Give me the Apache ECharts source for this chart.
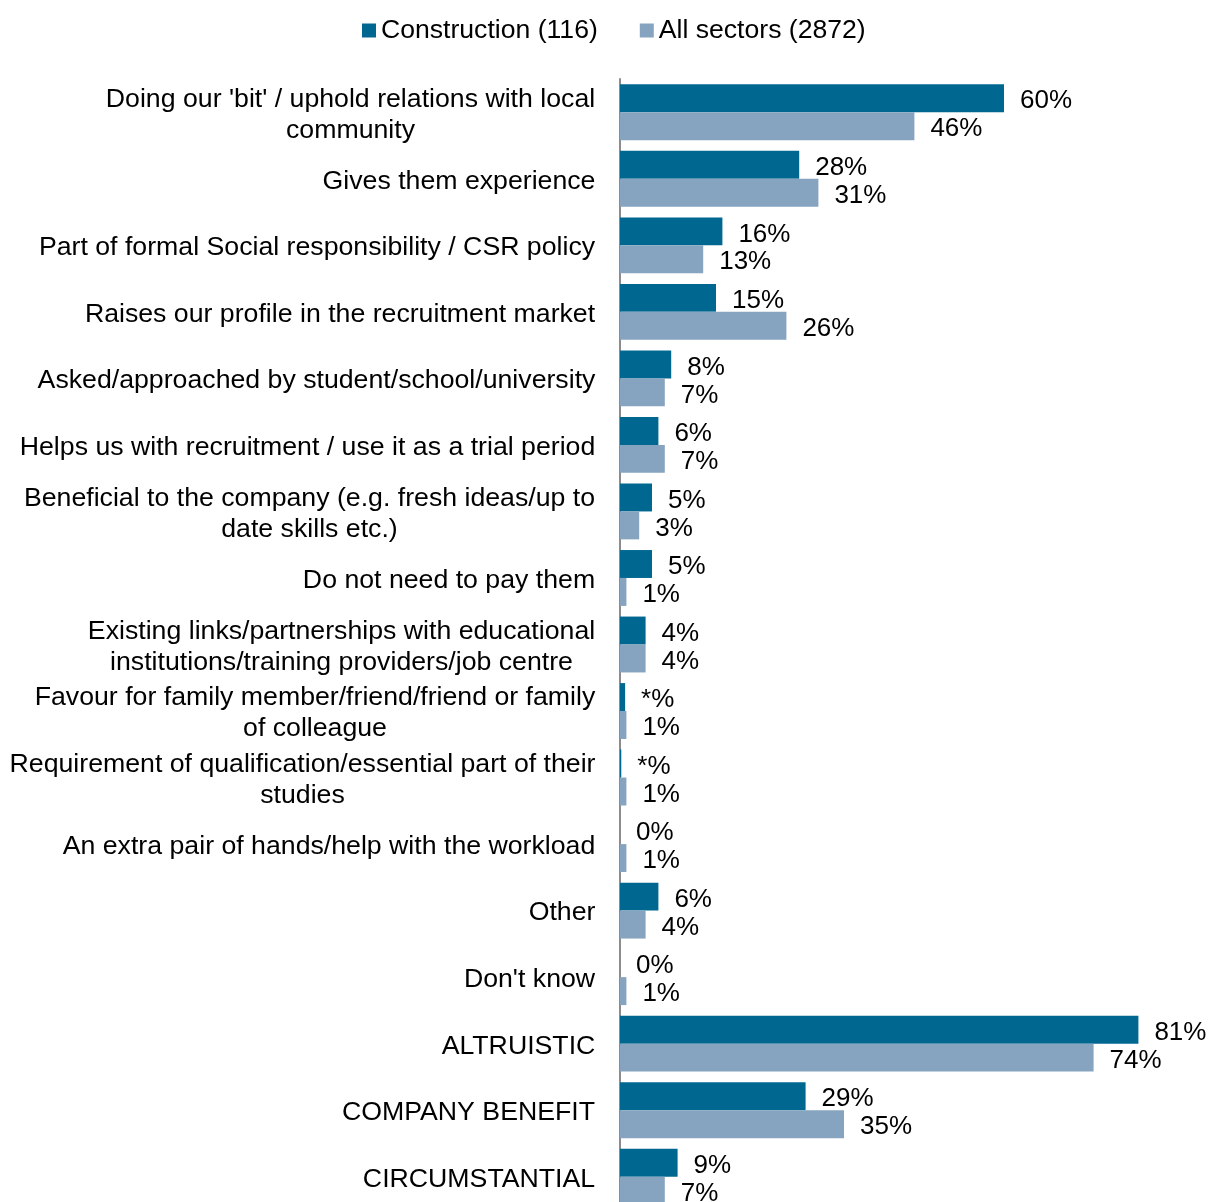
<!DOCTYPE html>
<html>
<head>
<meta charset="utf-8">
<script src="https://cdn.jsdelivr.net/npm/echarts@6/dist/echarts.min.js"></script>
<style>
  html, body { margin: 0; padding: 0; background: #fff; }
  #chart { width: 1210px; height: 1202px; }
</style>
</head>
<body>
<div id="chart"></div>
<script>
// Reasons for offering work placements (% of employers)
const categories = [
  "Doing our 'bit' / uphold relations with local\ncommunity",
  "Gives them experience",
  "Part of formal Social responsibility / CSR policy",
  "Raises our profile in the recruitment market",
  "Asked/approached by student/school/university",
  "Helps us with recruitment / use it as a trial period",
  "Beneficial to the company (e.g. fresh ideas/up to\ndate skills etc.)",
  "Do not need to pay them",
  "Existing links/partnerships with educational\ninstitutions/training providers/job centre",
  "Favour for family member/friend/friend or family\nof colleague",
  "Requirement of qualification/essential part of their\nstudies",
  "An extra pair of hands/help with the workload",
  "Other",
  "Don't know",
  "ALTRUISTIC",
  "COMPANY BENEFIT",
  "CIRCUMSTANTIAL"
];

const seriesNames = ["Construction (116)", "All sectors (2872)"];

// values between 0 and 1 are shown as "*%" (under one percent)
const construction = [60, 28, 16, 15, 8, 6, 5, 5, 4, 0.8, 0.2, 0, 6, 0, 81, 29, 9];
const allSectors   = [46, 31, 13, 26, 7, 7, 3, 1, 4, 1, 1, 1, 4, 1, 74, 35, 7];

const FONT = '"Liberation Sans", Arial, Helvetica, sans-serif';
const LABEL_SIZE = 26.7;
const LEGEND_SIZE = 26.6;
const VALUE_SIZE = 26;

// Measure each category label so multi-line labels can be centred within
// their own block while the block stays right-aligned against the axis.
const measureCtx = document.createElement('canvas').getContext('2d');
measureCtx.font = LABEL_SIZE + 'px ' + FONT;
const rich = {};
categories.forEach((c, i) => {
  const w = Math.max(...c.split('\n').map(l => measureCtx.measureText(l).width));
  rich['c' + i] = {
    width: Math.ceil(w) + 1,
    align: 'center',
    fontSize: LABEL_SIZE,
    fontFamily: FONT,
    color: '#000',
    lineHeight: 31
  };
});

const pctLabel = p => {
  const v = p.value;
  return (v > 0 && v < 1) ? '*%' : v + '%';
};

const valueLabel = {
  show: true,
  position: 'right',
  distance: 16,
  offset: [0, 3],
  formatter: pctLabel,
  fontSize: VALUE_SIZE,
  fontFamily: FONT,
  color: '#000'
};

const chart = echarts.init(document.getElementById('chart'));
chart.setOption({
  backgroundColor: '#fff',
  animation: false,
  legend: {
    data: seriesNames,
    left: 357,
    top: 12,
    icon: 'rect',
    itemWidth: 14,
    itemHeight: 14,
    itemGap: 42,
    textStyle: { fontSize: LEGEND_SIZE, fontFamily: FONT, color: '#000' }
  },
  grid: {
    left: 620,
    top: 79,
    width: 576,
    height: 1131,
    outerBoundsMode: 'none',
    containLabel: false
  },
  xAxis: {
    type: 'value',
    min: 0,
    max: 90,
    show: false
  },
  yAxis: {
    type: 'category',
    inverse: true,
    data: categories,
    axisLine: { show: true, lineStyle: { color: '#8c8c8c', width: 2 } },
    axisTick: { show: false },
    splitLine: { show: false },
    axisLabel: {
      margin: 24,
      align: 'right',
      padding: [5, 0, 0, 0],
      fontSize: LABEL_SIZE,
      fontFamily: FONT,
      color: '#000',
      formatter: (value, index) =>
        value.split('\n').map(l => '{c' + index + '|' + l + '}').join('\n'),
      rich: rich
    }
  },
  series: [
    {
      name: seriesNames[0],
      type: 'bar',
      data: construction,
      barGap: '0%',
      barCategoryGap: '16%',
      itemStyle: { color: '#006890' },
      label: valueLabel
    },
    {
      name: seriesNames[1],
      type: 'bar',
      data: allSectors,
      barGap: '0%',
      barCategoryGap: '16%',
      itemStyle: { color: '#86A4BF' },
      label: valueLabel
    }
  ]
});
</script>
</body>
</html>
